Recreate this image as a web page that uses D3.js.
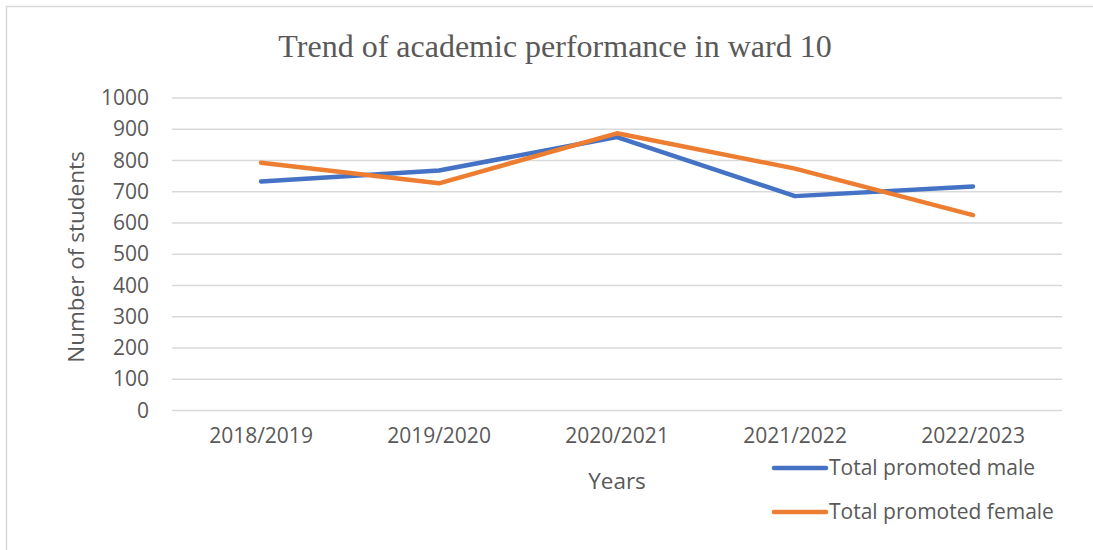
<!DOCTYPE html>
<html lang="en">
<head>
<meta charset="UTF-8">
<title>Trend of academic performance in ward 10</title>
<script src="https://d3js.org/d3.v7.min.js"></script>
<style>
    body { margin: 0; background: #fff; }
    svg { display: block; }
    .tick text { font-family: 'Open Sans', sans-serif; font-size: 21px; fill: #595959; }
    .axis-title { font-family: 'Open Sans', sans-serif; font-size: 22.5px; fill: #595959; }
    .legend text { font-family: 'Open Sans', sans-serif; font-size: 21px; fill: #595959; }
</style>
</head>
<body>
<div id="chart"></div>
<script>
    // Data
    const years = ['2018/2019', '2019/2020', '2020/2021', '2021/2022', '2022/2023'];
    const male = [733, 768, 875, 686, 717];
    const female = [793, 727, 887, 774, 625];
    const yTicks = [0, 100, 200, 300, 400, 500, 600, 700, 800, 900, 1000];

    const series = [
        { name: 'Total promoted male', values: male, color: '#4472C4' },
        { name: 'Total promoted female', values: female, color: '#ED7D31' }
    ];

    const W = 1093, H = 550;
    const plot = { left: 172, right: 1062, top: 98, bottom: 410.5 };

    const svg = d3.select('#chart').append('svg')
        .attr('width', W)
        .attr('height', H);

    // chart frame
    svg.append('rect')
        .attr('x', 6.5).attr('y', 6.5)
        .attr('width', W + 20).attr('height', H + 20)
        .attr('fill', 'none')
        .attr('stroke', '#d9d9d9')
        .attr('stroke-width', 1.5);

    const x = d3.scaleBand()
        .domain(years)
        .range([plot.left, plot.right]);

    const y = d3.scaleLinear()
        .domain([0, 1000])
        .range([plot.bottom, plot.top]);

    // gridlines
    svg.append('g')
        .selectAll('line')
        .data(yTicks)
        .join('line')
        .attr('x1', plot.left).attr('x2', plot.right)
        .attr('y1', d => y(d)).attr('y2', d => y(d))
        .attr('stroke', '#d9d9d9')
        .attr('stroke-width', 1.5);

    // y axis
    const yAxis = svg.append('g')
        .attr('transform', `translate(${plot.left - 23},0)`)
        .call(d3.axisLeft(y).tickValues(yTicks).tickFormat(d3.format('d')).tickSize(0).tickPadding(0));
    yAxis.select('.domain').remove();

    // x axis
    const xAxis = svg.append('g')
        .attr('transform', `translate(0,${plot.bottom + 18})`)
        .call(d3.axisBottom(x).tickSize(0).tickPadding(0));
    xAxis.select('.domain').remove();
    xAxis.selectAll('text').attr('dy', '0.71em');

    // title
    svg.append('text')
        .attr('x', 555)
        .attr('y', 57)
        .attr('text-anchor', 'middle')
        .style('font-family', "'Liberation Serif', 'Times New Roman', serif")
        .style('font-size', '32px')
        .style('fill', '#595959')
        .text('Trend of academic performance in ward 10');

    // axis titles
    svg.append('text')
        .attr('class', 'axis-title')
        .attr('transform', 'translate(84,257) rotate(-90)')
        .attr('text-anchor', 'middle')
        .text('Number of students');

    svg.append('text')
        .attr('class', 'axis-title')
        .attr('x', 617)
        .attr('y', 489)
        .attr('text-anchor', 'middle')
        .text('Years');

    // lines
    const line = d3.line()
        .x((d, i) => x(years[i]) + x.bandwidth() / 2)
        .y(d => y(d));

    svg.append('g')
        .selectAll('path')
        .data(series)
        .join('path')
        .attr('d', d => line(d.values))
        .attr('fill', 'none')
        .attr('stroke', d => d.color)
        .attr('stroke-width', 4.5)
        .attr('stroke-linecap', 'round')
        .attr('stroke-linejoin', 'round');

    // legend
    const legend = svg.append('g')
        .attr('class', 'legend')
        .selectAll('g')
        .data(series)
        .join('g')
        .attr('transform', (d, i) => `translate(772,${468 + i * 44})`);

    legend.append('line')
        .attr('x1', 2).attr('x2', 54)
        .attr('stroke', d => d.color)
        .attr('stroke-width', 4.5)
        .attr('stroke-linecap', 'round');

    legend.append('text')
        .attr('x', 57)
        .attr('dy', '0.35em')
        .text(d => d.name);
</script>
</body>
</html>
